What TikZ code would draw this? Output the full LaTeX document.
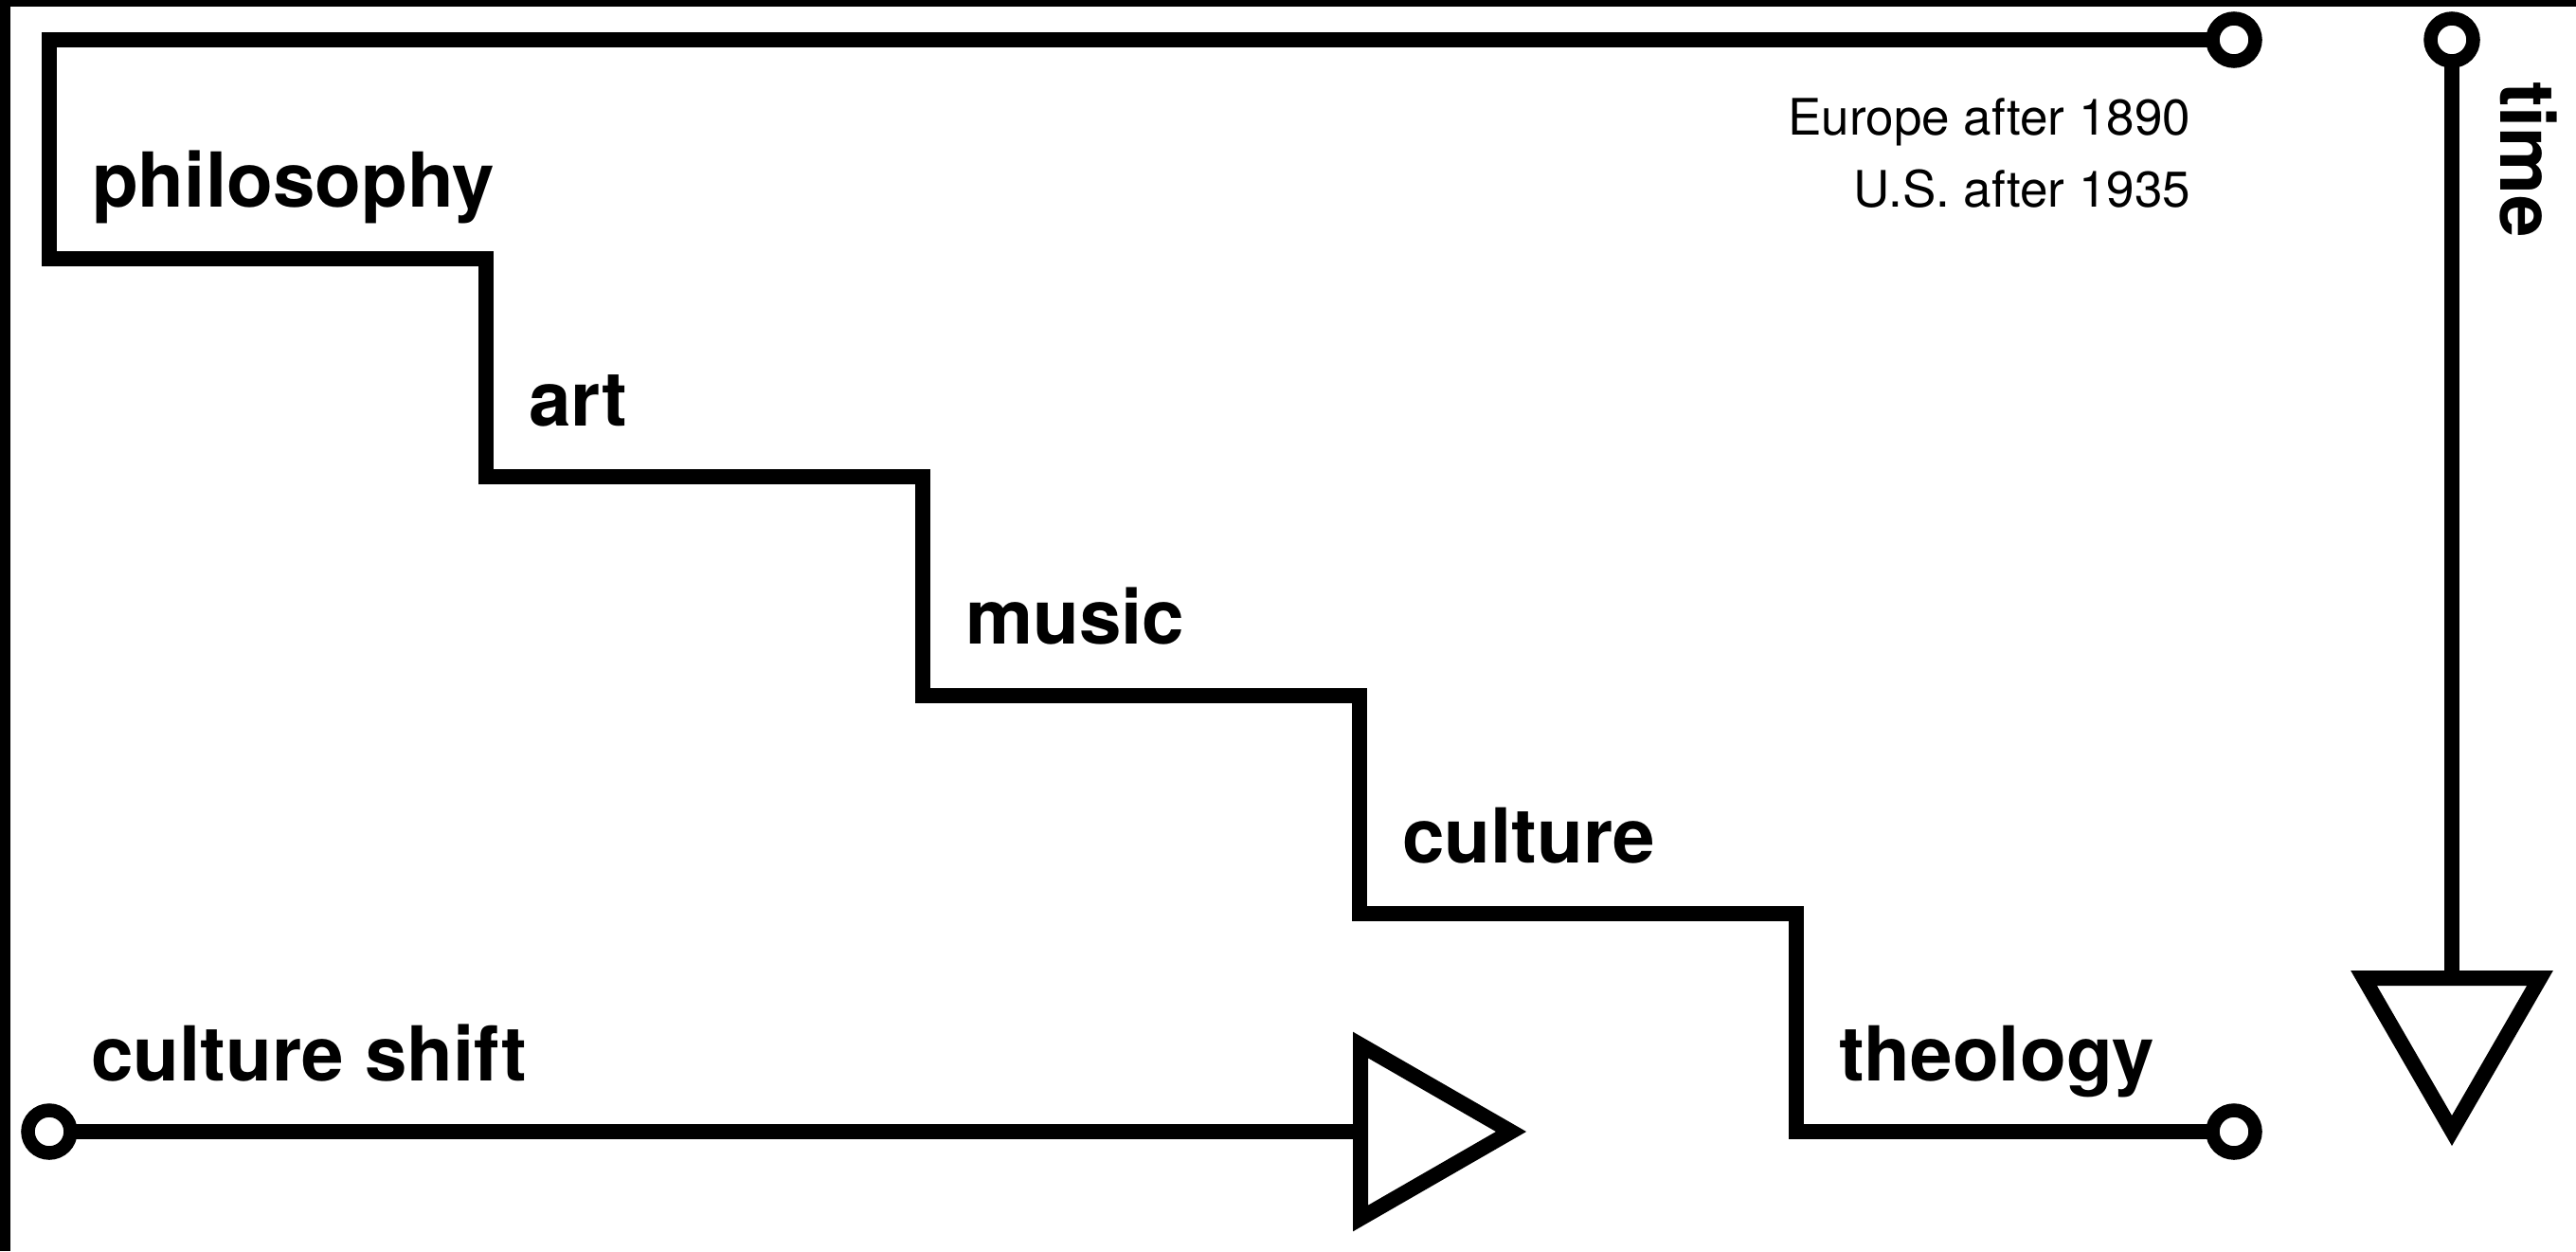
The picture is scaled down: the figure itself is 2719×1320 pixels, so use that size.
\documentclass[tikz,border=0pt]{standalone}
\usepackage{fontspec}
\setmainfont{TeX Gyre Heros}
\begin{document}
\begin{tikzpicture}[x=1pt,y=-1pt,
  line width=16pt, line join=miter, line cap=butt,
  lab/.style={anchor=base west, inner sep=0pt, outer sep=0pt, font=\fontsize{80}{92}\selectfont\bfseries},
  small/.style={anchor=base east, inner sep=0pt, outer sep=0pt, font=\fontsize{53}{76}\selectfont},
  endcirc/.style={circle, draw, fill=white, line width=14.5pt, minimum size=45pt, inner sep=0pt}]
\useasboundingbox (0,0) rectangle (2719,1320);
\fill[black] (0,0) rectangle (2719,1320);
\fill[white] (11,7) rectangle (2719,1320);
% staircase corners
\coordinate (top) at (2358,42);
\coordinate (c0) at (52,42);
\coordinate (c1) at (52,272.5);
\coordinate (c2) at (513,272.5);
\coordinate (c3) at (513,503);
\coordinate (c4) at (974,503);
\coordinate (c5) at (974,733.5);
\coordinate (c6) at (1435,733.5);
\coordinate (c7) at (1435,964);
\coordinate (c8) at (1896,964);
\coordinate (c9) at (1896,1194);
\coordinate (bot) at (2358,1194);
\draw (top) -- (c0) -- (c1) -- (c2) -- (c3) -- (c4) -- (c5) -- (c6) -- (c7) -- (c8) -- (c9) -- (bot);
% culture shift arrow
\coordinate (cs) at (52,1194);
\coordinate (hb) at (1436,1194);
\coordinate (ht) at (1436,1102.5);
\coordinate (hbb) at (1436,1285.5);
\coordinate (ha) at (1595,1194);
\draw (cs) -- (hb);
\draw (ht) -- (ha) -- (hbb) -- cycle;
% time arrow
\coordinate (tm) at (2588,42);
\coordinate (vt) at (2588,1032);
\coordinate (vl) at (2495,1032);
\coordinate (vr) at (2681,1032);
\coordinate (va) at (2588,1193);
\draw (tm) -- (vt);
\draw (vl) -- (vr) -- (va) -- cycle;
% end circles
\node[endcirc] (ctop) at (top) {};
\node[endcirc] (cbot) at (bot) {};
\node[endcirc] (ccs) at (cs) {};
\node[endcirc] (ctm) at (tm) {};
% labels
\node[lab] (philosophy) at (97,218) {philosophy};
\node[lab] (art) at (558,449) {art};
\node[lab] (music) at (1019,679) {music};
\node[lab] (culture) at (1480,910) {culture};
\node[lab] (theology) at (1941,1140) {theology};
\node[lab] (shift) at (96,1140) {culture shift};
\node[lab, rotate=-90] (time) at (2639,86) {time};
\node[small] (europe) at (2312,142) {Europe after 1890};
\node[small] (us) at (2312,218) {U.S. after 1935};
\end{tikzpicture}
\end{document}
